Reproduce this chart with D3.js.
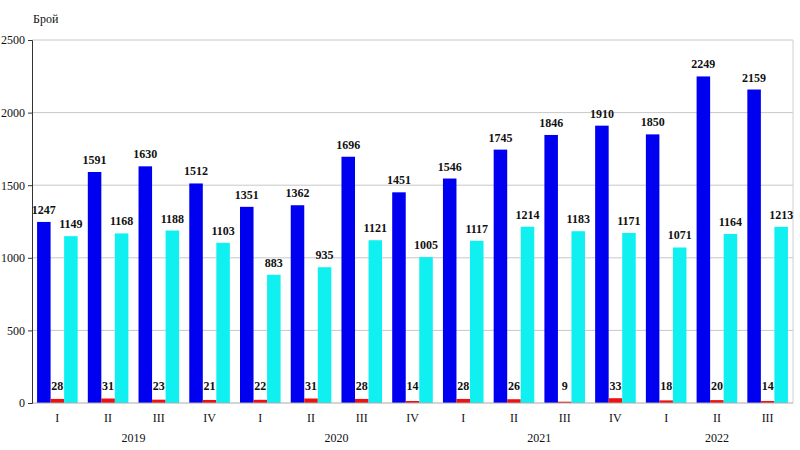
<!DOCTYPE html>
<html><head><meta charset="utf-8">
<script src="https://cdn.jsdelivr.net/npm/d3@7"></script>
<style>body{margin:0;background:#fff}svg{display:block}text{font-family:"Liberation Serif","DejaVu Serif",serif}</style>
</head><body>
<svg id="c" width="800" height="450"></svg>
<script>
const quarters = ["I","II","III","IV","I","II","III","IV","I","II","III","IV","I","II","III"];
const years = [{label:"2019",from:0,to:3},{label:"2020",from:4,to:7},{label:"2021",from:8,to:11},{label:"2022",from:12,to:14}];
const seriesBlue = [1247,1591,1630,1512,1351,1362,1696,1451,1546,1745,1846,1910,1850,2249,2159];
const seriesRed = [28,31,23,21,22,31,28,14,28,26,9,33,18,20,14];
const seriesCyan = [1149,1168,1188,1103,883,935,1121,1005,1117,1214,1183,1171,1071,1164,1213];
const yTicks = [0,500,1000,1500,2000,2500];

const svg = d3.select("#c");
const m = {l:32, r:7, t:40, b:47};
const W = 800, H = 450;
const x = d3.scaleBand().domain(d3.range(quarters.length)).range([m.l, W-m.r]).paddingInner(0.2).paddingOuter(0.1);
const x0 = d3.scaleBand().domain(d3.range(quarters.length)).range([m.l, W-m.r]);
const y = d3.scaleLinear().domain([0,2500]).range([H-m.b, m.t]);
const sub = d3.scaleBand().domain(["b","r","c"]).range([0, x.bandwidth()]);

// gridlines
svg.append("g").selectAll("line").data(yTicks.filter(d=>d>0)).join("line")
  .attr("x1", m.l).attr("x2", W-m.r).attr("y1", d=>y(d)).attr("y2", d=>y(d))
  .attr("stroke", "#c8c8c8").attr("stroke-width", 1);
// right border
svg.append("line").attr("x1", W-m.r).attr("x2", W-m.r).attr("y1", y(2500)).attr("y2", y(0)).attr("stroke","#d0d0d0");

const series = [{k:"b",v:seriesBlue,c:"#0000f0"},{k:"r",v:seriesRed,c:"#ee1111"},{k:"c",v:seriesCyan,c:"#10f0f0"}];
series.forEach(s=>{
  const g = svg.append("g");
  g.selectAll("rect").data(s.v).join("rect")
    .attr("x",(d,i)=>x(i)+sub(s.k)).attr("width",sub.bandwidth())
    .attr("y",d=>y(d)).attr("height",d=>y(0)-y(d)).attr("fill",s.c);
  g.selectAll("text").data(s.v).join("text")
    .attr("x",(d,i)=>x(i)+sub(s.k)+sub.bandwidth()/2)
    .attr("y",d=> s.k==="r" ? y(0)-13 : y(d)-8)
    .attr("text-anchor","middle").attr("font-size",12).attr("font-weight","bold").attr("fill","#111")
    .text(d=>d);
});

// x axis line
svg.append("line").attr("x1", m.l).attr("x2", W-m.r).attr("y1", y(0)).attr("y2", y(0)).attr("stroke","#aaa");
// y axis
const ya = svg.append("g").attr("transform",`translate(${m.l},0)`)
  .call(d3.axisLeft(y).tickValues(yTicks).tickFormat(d3.format("d")).tickSize(4).tickPadding(3))
  .attr("font-family","Liberation Serif, serif").attr("font-size",12);
ya.select(".domain").attr("stroke","#333");
ya.selectAll(".tick line").attr("stroke","#333");
ya.selectAll("text").attr("fill","#111");

// quarter labels
svg.append("g").selectAll("text").data(quarters).join("text")
  .attr("x",(d,i)=>x0(i)+x0.bandwidth()/2).attr("y", y(0)+19)
  .attr("text-anchor","middle").attr("font-size",12).attr("fill","#111").text(d=>d);
// year labels
svg.append("g").selectAll("text").data(years).join("text")
  .attr("x",d=>(x0(d.from)+x0(d.to)+x0.bandwidth())/2).attr("y", y(0)+39)
  .attr("text-anchor","middle").attr("font-size",12).attr("fill","#111").text(d=>d.label);

svg.append("text").attr("x",33).attr("y",23).attr("font-size",12).attr("fill","#111").text("Брой");
</script>
</body></html>
